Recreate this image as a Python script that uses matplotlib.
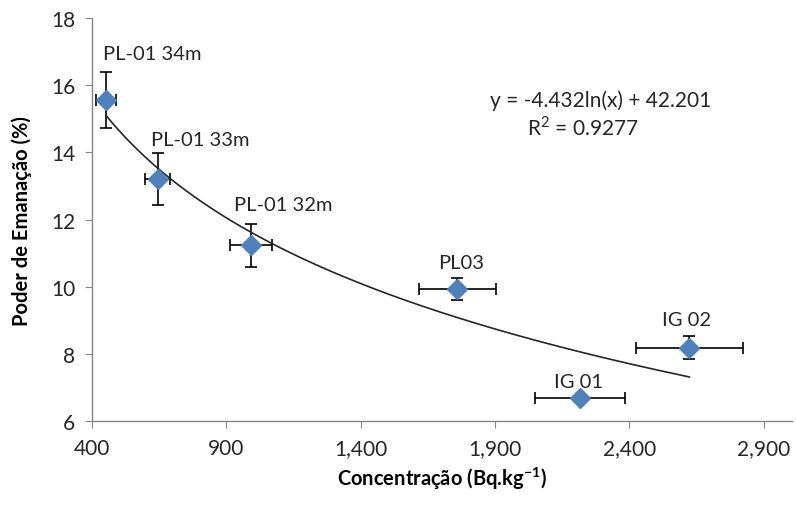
import numpy as np
import matplotlib.pyplot as plt
from matplotlib.ticker import FuncFormatter

plt.rcParams['font.family'] = ['Lato', 'DejaVu Sans']
plt.rcParams['mathtext.fontset'] = 'custom'
plt.rcParams['mathtext.rm'] = 'Lato'
plt.rcParams['mathtext.bf'] = 'Lato:bold'

# data
labels = ["PL-01 34m", "PL-01 33m", "PL-01 32m", "PL03", "IG 01", "IG 02"]
conc = np.array([452, 644, 992, 1760, 2216, 2623])
poder = np.array([15.57, 13.21, 11.24, 9.93, 6.68, 8.18])
xerr = np.array([37, 48, 79, 142, 169, 200])
yerr = np.array([0.83, 0.78, 0.64, 0.33, 0.0, 0.34])

# label offsets in pixels (dx, dy, ha)
offs = [(-3, 46, 'left'), (-7, 40, 'left'), (-17, 41, 'left'),
        (4, 27, 'center'), (-2, 17, 'center'), (-3, 28, 'center')]

a, b = -4.432, 42.201

fig = plt.figure(figsize=(7.96, 5.06), dpi=100)
ax = fig.add_axes([0.1156, 0.166, 0.8794, 0.796])

ax.errorbar(conc, poder, xerr=xerr, yerr=yerr, fmt='none', ecolor='black',
            elinewidth=1.2, capsize=4, capthick=1.2, zorder=2)

xx = np.linspace(conc.min(), conc.max(), 300)
ax.plot(xx, a * np.log(xx) + b, color='#262626', lw=1.2, zorder=3)

ax.plot(conc, poder, 'D', color='#4F81BD', ms=10.5, mec='#4F81BD', zorder=4)

for i, lab in enumerate(labels):
    dx, dy, ha = offs[i]
    ax.annotate(lab, (conc[i], poder[i]), xytext=(dx * 0.72, dy * 0.72),
                textcoords='offset points', ha=ha, va='center',
                fontsize=14.5, color='#262626')

ax.text(0.726, 0.797, "y = -4.432ln(x) + 42.201", transform=ax.transAxes,
        ha='center', va='center', fontsize=15, color='#262626')
ax.text(0.701, 0.730, "R$^2$ = 0.9277", transform=ax.transAxes,
        ha='center', va='center', fontsize=15, color='#262626')

ax.set_xlim(400, 3005)
ax.set_ylim(6, 18)
ax.set_xticks([400, 900, 1400, 1900, 2400, 2900])
ax.set_yticks([6, 8, 10, 12, 14, 16, 18])
ax.xaxis.set_major_formatter(FuncFormatter(lambda v, p: f"{int(v):,}"))

for s in ['top', 'right']:
    ax.spines[s].set_visible(False)
for s in ['left', 'bottom']:
    ax.spines[s].set_color('#868686')
    ax.spines[s].set_linewidth(1.0)
ax.tick_params(direction='out', length=5, color='#868686', labelsize=15,
               labelcolor='#262626', pad=7)

ax.set_xlabel("Concentração (Bq.kg$^{\\mathbf{-1}}$)", fontsize=14.5,
              fontweight='bold', labelpad=5)
ax.set_ylabel("Poder de Emanação (%)", fontsize=14.5, fontweight='bold',
              labelpad=14)

fig.savefig("out.png", dpi=100)
